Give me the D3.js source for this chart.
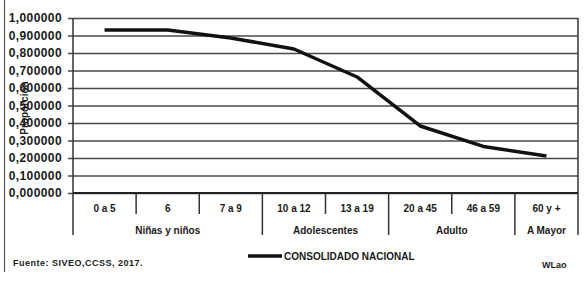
<!DOCTYPE html>
<html>
<head>
<meta charset="utf-8">
<script src="https://cdn.jsdelivr.net/npm/d3@7"></script>
<style>
  body { margin: 0; background: #fff; }
  svg text { font-family: "Liberation Sans", Arial, sans-serif; fill: #1a1a1a; }
</style>
</head>
<body>
<div id="wrapper"></div>
<script>
// data
const categories = ["0 a 5", "6", "7 a 9", "10 a 12", "13 a 19", "20 a 45", "46 a 59", "60 y +"]
const values = [0.931, 0.931, 0.886, 0.823, 0.663, 0.383, 0.266, 0.211]
const groups = ["Niñas y niños", "Adolescentes", "Adulto", "A Mayor"]
const groupSizes = [3, 2, 2, 1]
const yTickValues = [0, 0.1, 0.2, 0.3, 0.4, 0.5, 0.6, 0.7, 0.8, 0.9, 1.0]
const seriesName = "CONSOLIDADO NACIONAL"
const yLabel = "Proporción"
const source = "Fuente: SIVEO,CCSS,  2017."
const signature = "WLao"

function drawChart() {
  const dimensions = {
    width: 584,
    height: 285,
    margin: { top: 18, right: 6, bottom: 92, left: 73 },
  }
  dimensions.boundedWidth = dimensions.width - dimensions.margin.left - dimensions.margin.right
  dimensions.boundedHeight = dimensions.height - dimensions.margin.top - dimensions.margin.bottom

  const wrapper = d3.select("#wrapper")
    .append("svg")
      .attr("width", dimensions.width)
      .attr("height", dimensions.height)

  // outer frame line on the left
  wrapper.append("line")
      .attr("x1", 4.5).attr("x2", 4.5)
      .attr("y1", 0).attr("y2", 272)
      .attr("stroke", "#555").attr("stroke-width", 1.2)

  const bounds = wrapper.append("g")
      .attr("transform", `translate(${dimensions.margin.left}, ${dimensions.margin.top})`)

  // scales
  const xScale = d3.scaleBand()
    .domain(categories)
    .range([0, dimensions.boundedWidth])

  const yScale = d3.scaleLinear()
    .domain([0, 1])
    .range([dimensions.boundedHeight, 0])

  // y axis with gridlines
  const fmt = d => d3.format(".6f")(d).replace(".", ",")
  const yAxisGenerator = d3.axisLeft(yScale)
    .tickValues(yTickValues)
    .tickFormat(fmt)
    .tickSize(-dimensions.boundedWidth)
    .tickPadding(11)

  const yAxis = bounds.append("g").call(yAxisGenerator)
  yAxis.select(".domain").remove()
  yAxis.selectAll(".tick line")
      .attr("x1", -5)
      .attr("stroke", "#4a4a4a")
      .attr("stroke-width", 1.5)
  yAxis.selectAll(".tick text")
      .attr("font-size", 12)
      .attr("font-weight", "bold")
      .attr("letter-spacing", "0.4px")
      .style("fill", "#1a1a1a")

  // y label (rotated, overlapping ticks as in original)
  wrapper.append("text")
      .attr("transform", "translate(25, 108) rotate(-90)")
      .attr("text-anchor", "middle")
      .attr("dominant-baseline", "middle")
      .attr("font-size", 10)
      .attr("font-weight", "bold")
      .text(yLabel)

  // plot frame: left axis, right border, baseline
  const axisBottom = dimensions.boundedHeight + 42
  bounds.append("line")
      .attr("x1", 0).attr("x2", 0)
      .attr("y1", 0).attr("y2", axisBottom)
      .attr("stroke", "#333").attr("stroke-width", 1.5)
  bounds.append("line")
      .attr("x1", dimensions.boundedWidth).attr("x2", dimensions.boundedWidth)
      .attr("y1", 0).attr("y2", axisBottom)
      .attr("stroke", "#333").attr("stroke-width", 1.5)
  bounds.append("line")
      .attr("x1", 0).attr("x2", dimensions.boundedWidth)
      .attr("y1", dimensions.boundedHeight).attr("y2", dimensions.boundedHeight)
      .attr("stroke", "#222").attr("stroke-width", 1.8)

  // category dividers
  const groupStarts = d3.cumsum([0, ...groupSizes]).slice(0, -1)
  const longIdx = new Set(groupStarts)
  bounds.append("g").selectAll("line")
    .data(categories.slice(1))
    .join("line")
      .attr("x1", d => xScale(d)).attr("x2", d => xScale(d))
      .attr("y1", dimensions.boundedHeight)
      .attr("y2", (d, i) => longIdx.has(i + 1) ? axisBottom : dimensions.boundedHeight + 21)
      .attr("stroke", "#333").attr("stroke-width", 1.5)

  // category labels
  bounds.append("g").selectAll("text")
    .data(categories)
    .join("text")
      .attr("x", d => xScale(d) + xScale.bandwidth() / 2)
      .attr("y", dimensions.boundedHeight + 19)
      .attr("text-anchor", "middle")
      .attr("font-size", 10)
      .attr("font-weight", "bold")
      .text(d => d)

  // group labels
  bounds.append("g").selectAll("text")
    .data(groups)
    .join("text")
      .attr("x", (d, i) => {
        const a = xScale(categories[groupStarts[i]])
        const b = xScale(categories[groupStarts[i] + groupSizes[i] - 1]) + xScale.bandwidth()
        return (a + b) / 2
      })
      .attr("y", dimensions.boundedHeight + 41)
      .attr("text-anchor", "middle")
      .attr("font-size", 10)
      .attr("font-weight", "bold")
      .text(d => d)

  // the line
  const lineGenerator = d3.line()
    .x((d, i) => xScale(categories[i]) + xScale.bandwidth() / 2)
    .y(d => yScale(d))

  bounds.append("path")
      .attr("d", lineGenerator(values))
      .attr("fill", "none")
      .attr("stroke", "#111")
      .attr("stroke-width", 3.5)
      .attr("stroke-linejoin", "round")

  // legend
  const legend = wrapper.append("g")
      .attr("transform", "translate(248, 256)")
  legend.append("line")
      .attr("x1", 0).attr("x2", 34)
      .attr("stroke", "#111").attr("stroke-width", 3.5)
  legend.append("text")
      .attr("x", 36)
      .attr("dy", "0.35em")
      .attr("font-size", 10)
      .attr("font-weight", "bold")
      .text(seriesName)

  // footer texts
  wrapper.append("text")
      .attr("x", 13).attr("y", 266)
      .attr("font-size", 9)
      .attr("font-weight", "bold")
      .attr("letter-spacing", "0.5px")
      .text(source)
  wrapper.append("text")
      .attr("x", 542).attr("y", 268)
      .attr("font-size", 9)
      .attr("font-weight", "bold")
      .text(signature)
}
drawChart()
</script>
</body>
</html>
